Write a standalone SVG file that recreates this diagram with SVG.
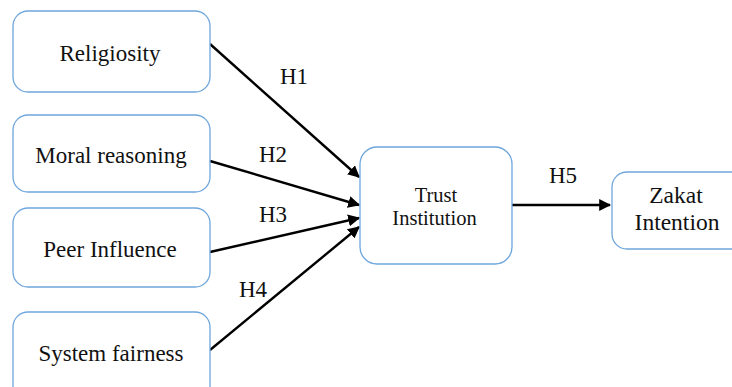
<svg xmlns="http://www.w3.org/2000/svg" width="732" height="387" viewBox="0 0 732 387">
<defs>
<style>
.box{fill:#fff;stroke:#6fa6dc;stroke-width:1.3}
.t{font-family:'Liberation Serif','Times New Roman',serif;fill:#111;text-anchor:middle}
.e{stroke:#000;stroke-width:2.4;fill:none;marker-end:url(#ah)}
</style>
<marker id="ah" viewBox="0 0 10 10" refX="9" refY="5" markerWidth="5" markerHeight="5" orient="auto" markerUnits="strokeWidth">
<path d="M0,0 L10,5 L0,10 z" fill="#000"/>
</marker>
</defs>
<rect width="732" height="387" fill="#fff"/>
<g id="connectors">
<line class="e" x1="210" y1="44" x2="359" y2="177"/>
<line class="e" x1="210" y1="161" x2="359" y2="205"/>
<line class="e" x1="210" y1="252" x2="359" y2="218"/>
<line class="e" x1="210" y1="350" x2="359" y2="227"/>
<line class="e" x1="512" y1="205" x2="610" y2="205"/>
<text class="t" x="294" y="84" font-size="23">H1</text>
<text class="t" x="273" y="162" font-size="23">H2</text>
<text class="t" x="273" y="222" font-size="23">H3</text>
<text class="t" x="253" y="297" font-size="23">H4</text>
<text class="t" x="563" y="183" font-size="23">H5</text>
</g>
<g id="religiosity">
<rect class="box" x="13" y="11" width="197" height="81" rx="15"/>
<text class="t" x="110" y="61" font-size="23">Religiosity</text>
</g>
<g id="moral">
<rect class="box" x="13" y="115" width="197" height="77" rx="15"/>
<text class="t" x="111" y="163" font-size="23">Moral reasoning</text>
</g>
<g id="peer">
<rect class="box" x="13" y="208" width="197" height="79" rx="15"/>
<text class="t" x="110" y="257" font-size="23">Peer Influence</text>
</g>
<g id="system">
<rect class="box" x="13" y="312" width="197" height="90" rx="15"/>
<text class="t" x="111" y="361" font-size="23">System fairness</text>
</g>
<g id="trust">
<rect class="box" x="360" y="147" width="152" height="117" rx="17"/>
<text class="t" x="436" y="202" font-size="20.5">Trust</text>
<text class="t" x="434.5" y="225" font-size="20.5">Institution</text>
</g>
<g id="zakat">
<rect class="box" x="612" y="172" width="135" height="77" rx="15"/>
<text class="t" x="676" y="203" font-size="23.5">Zakat</text>
<text class="t" x="677" y="230" font-size="23.5">Intention</text>
</g>
</svg>
